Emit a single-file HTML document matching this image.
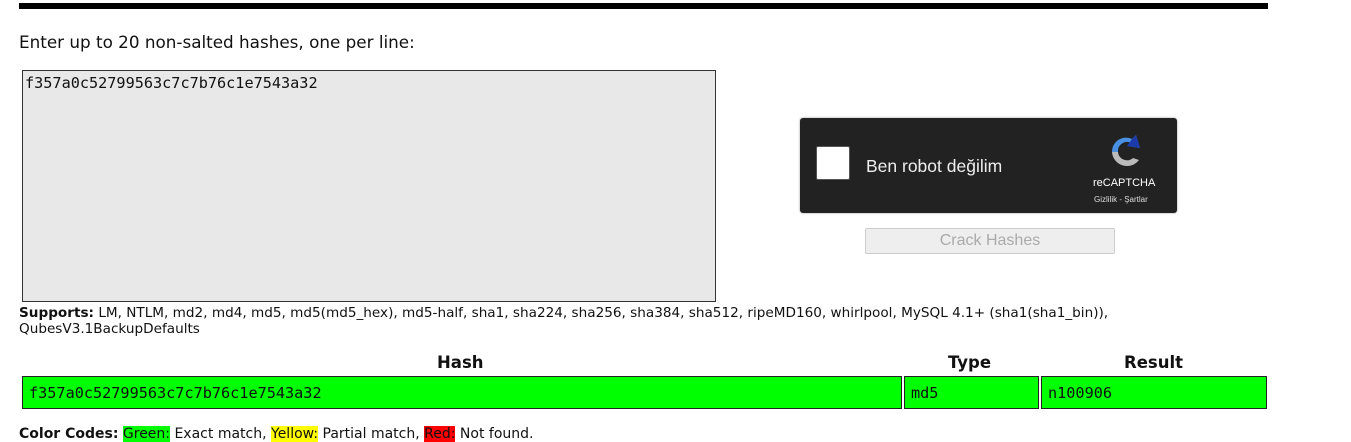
<!DOCTYPE html>
<html><head><meta charset="utf-8"><style>
body{margin:0;width:1351px;height:432px;overflow:hidden;background:#fff;position:relative;font-family:"DejaVu Sans","Liberation Sans",sans-serif;color:#111}
.a{position:absolute;white-space:nowrap}
.mono{font-family:"DejaVu Sans Mono","Liberation Mono",monospace;font-size:15.2px}
.cell{position:absolute;top:376px;height:31px;background:#0f0;border:1px solid #222;box-sizing:content-box}
.cell span{position:absolute;left:6px;top:7px}
</style></head><body>
<div class="a" style="left:19px;width:1249px;height:6px;top:3px;background:#000"></div>
<div class="a" style="left:19px;top:32px;font-size:16.8px">Enter up to 20 non-salted hashes, one per line:</div>
<div class="a" style="left:22px;top:70px;width:692px;height:230px;background:#e8e8e8;border:1px solid #333"></div>
<div class="a mono" style="left:25px;top:74px">f357a0c52799563c7c7b76c1e7543a32</div>

<div class="a" style="left:800px;top:118px;width:377px;height:95px;background:#222;border-radius:3px;box-shadow:0 0 2px rgba(0,0,0,.4)"></div>
<div class="a" style="left:816px;top:146px;width:32px;height:32px;background:#fff;border:1px solid #555;border-radius:2px"></div>
<div class="a" style="left:866px;top:156px;font-family:'Liberation Sans',sans-serif;font-size:17.5px;color:#eee">Ben robot değilim</div>
<svg class="a" style="left:1106px;top:132px" width="40" height="40" viewBox="0 0 40 40">
<path d="M6 20 A14 14 0 0 1 26 7 L30 3 L34 16 L21 14 L25 11 A9 9 0 0 0 12 20 Z" fill="#4a90e2"/>
<path d="M26 7 L30 3 L34 16 L21 14 Z" fill="#1c3aa9"/>
<path d="M6 20 L12 20 A9 9 0 0 0 27 26 L33 28 A15 15 0 0 1 6 20 Z" fill="#bbb"/>
</svg>
<div class="a" style="left:1093px;top:177px;font-family:'Liberation Sans',sans-serif;font-size:11px;color:#fff">reCAPTCHA</div>
<div class="a" style="left:1094px;top:195px;font-family:'Liberation Sans',sans-serif;font-size:8px;color:#ddd">Gizlilik - Şartlar</div>
<div class="a" style="left:865px;top:228px;width:248px;height:24px;background:#eee;border:1px solid #ccc;border-radius:2px;text-align:center;line-height:24px;font-family:'Liberation Sans',sans-serif;font-size:16px;color:#aaa">Crack Hashes</div>

<div class="a" style="left:19px;top:305px;font-size:13.6px;line-height:16px"><b>Supports:</b> LM, NTLM, md2, md4, md5, md5(md5_hex), md5-half, sha1, sha224, sha256, sha384, sha512, ripeMD160, whirlpool, MySQL 4.1+ (sha1(sha1_bin)),<br>QubesV3.1BackupDefaults</div>

<div class="a" style="left:437px;top:353px;font-size:16.5px;font-weight:bold">Hash</div>
<div class="a" style="left:948px;top:353px;font-size:16.5px;font-weight:bold">Type</div>
<div class="a" style="left:1124px;top:353px;font-size:16.5px;font-weight:bold">Result</div>
<div class="cell" style="left:22px;width:878px"><span class="mono">f357a0c52799563c7c7b76c1e7543a32</span></div>
<div class="cell" style="left:904px;width:133px"><span class="mono">md5</span></div>
<div class="cell" style="left:1041px;width:224px"><span class="mono">n100906</span></div>

<div class="a" style="left:19px;top:427px;font-size:14px;line-height:14px"><b>Color Codes:</b> <span style="background:#0f0">Green:</span> Exact match, <span style="background:#ff0">Yellow:</span> Partial match, <span style="background:#f00">Red:</span> Not found.</div>
</body></html>
